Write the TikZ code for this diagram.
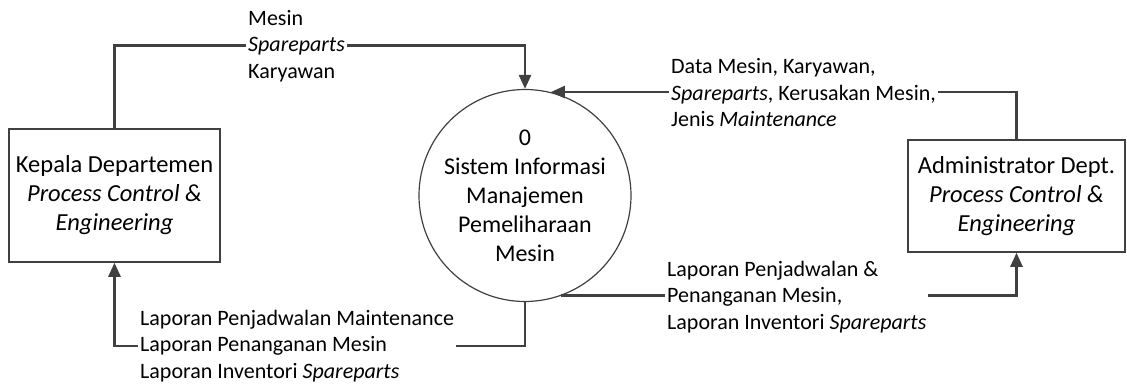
\documentclass[tikz,border=0pt]{standalone}
\usepackage{fontspec}
\setmainfont{Carlito}
\usetikzlibrary{arrows.meta,positioning}
\definecolor{linegray}{HTML}{404040}
\tikzset{
  ent/.style={draw=linegray,line width=1.5pt,minimum width=211pt,minimum height=133pt,
    align=center,inner sep=2pt,font=\fontsize{24.5}{29}\selectfont},
  proc/.style={circle,draw=linegray,line width=1.2pt,minimum size=212pt,
    align=center,inner sep=0pt,font=\fontsize{24}{29}\selectfont},
  flow/.style={-{Triangle[length=14pt,width=12pt]},draw=linegray,line width=2.5pt},
  lbl/.style={fill=white,align=left,anchor=west,inner sep=2pt,
    font=\fontsize{22}{26.5}\selectfont}
}
\begin{document}
\begin{tikzpicture}[x=1pt,y=-1pt]
\useasboundingbox (0,0) rectangle (1127,383);
\node[ent] (kepala) at (114.5,195.5) {Kepala Departemen\\\textit{Process Control \&}\\\textit{Engineering}};
\node[ent,minimum width=217pt,minimum height=112pt] (admin) at (1016.5,196) {Administrator Dept.\\\textit{Process Control \&}\\\textit{Engineering}};
\node[proc] (sim) at (525,195.5) {0\\Sistem Informasi\\Manajemen\\Pemeliharaan\\Mesin};
% data flows
\draw[flow] (kepala.north) -- ++(0,-83) -| (sim.north);
\draw[flow] (admin.north) |- (sim.76);
\draw[flow] (sim.south) -- ++(0,44) -| (kepala.south);
\draw[flow] (sim.-70) -| (admin.south);
% flow labels
\node[lbl] (lblin) at (246,46) {Mesin\\\textit{Spareparts}\\Karyawan};
\node[lbl] (lbldata) at (669,93) {Data Mesin, Karyawan,\\\textit{Spareparts}, Kerusakan Mesin,\\Jenis \textit{Maintenance}};
\node[lbl] (lbllap) at (138,346) {Laporan Penjadwalan Maintenance\\Laporan Penanganan Mesin\\Laporan Inventori \textit{Spareparts}};
\node[lbl] (lbladm) at (665,297) {Laporan Penjadwalan \&\\Penanganan Mesin,\\Laporan Inventori \textit{Spareparts}};
\end{tikzpicture}
\end{document}
